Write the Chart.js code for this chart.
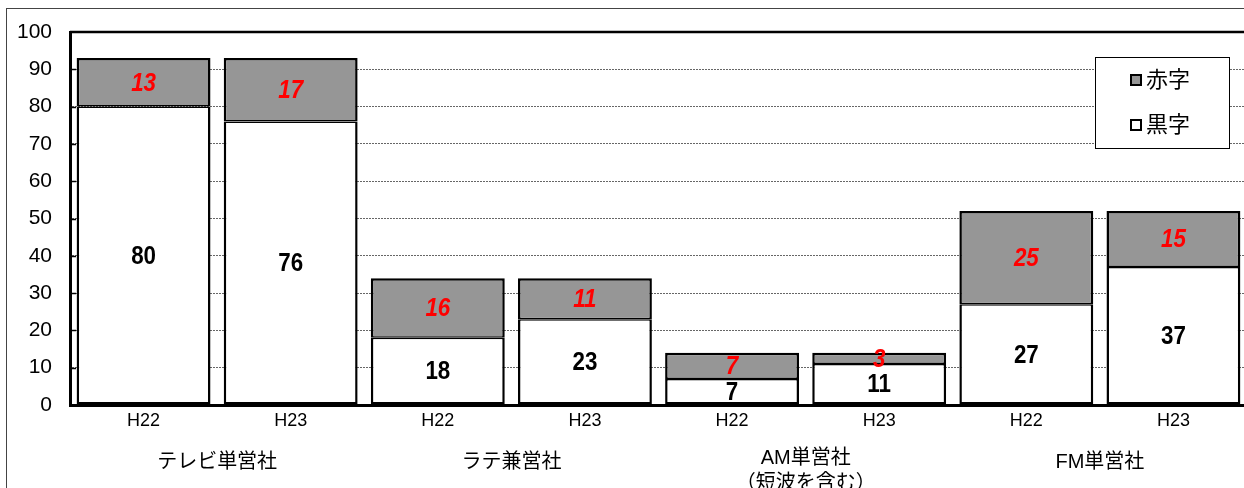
<!DOCTYPE html>
<html>
<head>
<meta charset="utf-8">
<script src="https://cdn.jsdelivr.net/npm/chart.js@4.4.0/dist/chart.umd.min.js"></script>
<style>
  html, body { margin: 0; padding: 0; background: #fff; overflow: hidden; }
</style>
</head>
<body>
<canvas id="myChart" width="1262" height="488"></canvas>
<script>
// 年度別・業態別の黒字／赤字社数
const years = ['H22', 'H23', 'H22', 'H23', 'H22', 'H23', 'H22', 'H23'];
const groups = [['テレビ単営社'], ['ラテ兼営社'], ['AM単営社', '（短波を含む）'], ['FM単営社']];
const kuroji = [80, 76, 18, 23, 7, 11, 27, 37];
const akaji = [13, 17, 16, 11, 7, 3, 25, 15];
const yMax = 100;
const yStep = 10;

const JP = "'Liberation Sans', 'Noto Sans CJK JP', sans-serif";

const decor = {
  id: 'decor',
  beforeDraw(chart) {
    const c = chart.ctx;
    c.save();
    c.fillStyle = '#fff';
    c.fillRect(0, 0, chart.width, chart.height);
    // outer frame
    c.strokeStyle = '#444';
    c.lineWidth = 1;
    c.strokeRect(6.5, 8.5, chart.width + 20, chart.height + 20);
    c.restore();
  },
  afterDatasetsDraw(chart) {
    const c = chart.ctx;
    const a = chart.chartArea;
    const y = chart.scales.y;
    const x = chart.scales.x;
    c.save();

    // plot area top line
    c.strokeStyle = '#000';
    c.lineWidth = 2.5;
    c.beginPath();
    c.moveTo(a.left, a.top);
    c.lineTo(a.right + 20, a.top);
    c.stroke();

    // short inward ticks on the value axis
    c.lineWidth = 1.5;
    for (let v = yStep; v < yMax; v += yStep) {
      const py = Math.round(y.getPixelForValue(v)) + 0.5;
      c.beginPath();
      c.moveTo(a.left, py);
      c.lineTo(a.left + 6, py);
      c.stroke();
    }

    // value labels inside each segment (condensed bold digits)
    c.textAlign = 'center';
    c.textBaseline = 'middle';
    chart.data.datasets.forEach((ds, di) => {
      const meta = chart.getDatasetMeta(di);
      meta.data.forEach((bar, i) => {
        const p = bar.getProps(['x', 'y', 'base'], true);
        const cy = (p.y + p.base) / 2;
        c.save();
        c.translate(p.x, cy + 1);
        c.scale(0.86, 1);
        if (di === 0) {
          c.fillStyle = '#000';
          c.font = 'bold 26px ' + JP;
        } else {
          c.fillStyle = '#ff0000';
          c.font = 'italic bold 26px ' + JP;
        }
        c.fillText(String(ds.data[i]), 0, 0);
        c.restore();
      });
    });

    // group captions under each pair of bars
    c.fillStyle = '#000';
    c.font = '20px ' + JP;
    groups.forEach((lines, g) => {
      const cx = (x.getPixelForValue(g * 2) + x.getPixelForValue(g * 2 + 1)) / 2;
      const top = lines.length > 1 ? 458 : 462;
      lines.forEach((t, k) => c.fillText(t, cx, top + k * 25));
    });

    // legend box
    const lx = 1095, ly = 57, lw = 134, lh = 91;
    c.fillStyle = '#fff';
    c.fillRect(lx, ly, lw, lh);
    c.strokeStyle = '#000';
    c.lineWidth = 1;
    c.strokeRect(lx + 0.5, ly + 0.5, lw, lh);
    const items = [
      { text: '赤字', fill: '#969696', cy: 80 },
      { text: '黒字', fill: '#ffffff', cy: 125 }
    ];
    c.textAlign = 'left';
    c.font = '22px ' + JP;
    items.forEach(it => {
      c.fillStyle = it.fill;
      c.fillRect(1131, it.cy - 5, 10, 10);
      c.lineWidth = 2;
      c.strokeStyle = '#000';
      c.strokeRect(1131, it.cy - 5, 10, 10);
      c.fillStyle = '#000';
      c.fillText(it.text, 1146, it.cy + 1);
    });
    c.restore();
  }
};

const config = {
  type: 'bar',
  data: {
    labels: years,
    datasets: [
      {
        label: '黒字',
        data: kuroji,
        backgroundColor: '#ffffff',
        borderColor: '#000',
        borderWidth: { top: 1.5, left: 2.5, right: 2.5, bottom: 2.5 },
        borderSkipped: false
      },
      {
        label: '赤字',
        data: akaji,
        backgroundColor: '#969696',
        borderColor: '#000',
        borderWidth: { top: 2.5, left: 2.5, right: 2.5, bottom: 1.5 },
        borderSkipped: false
      }
    ]
  },
  options: {
    responsive: false,
    animation: false,
    layout: { padding: { top: 32, right: 15, left: 0, bottom: 0 } },
    categoryPercentage: 1,
    barPercentage: 0.91,
    plugins: {
      legend: { display: false },
      tooltip: { enabled: false }
    },
    scales: {
      x: {
        stacked: true,
        grid: { display: false, drawTicks: false },
        border: { display: true, color: '#000', width: 3 },
        ticks: { color: '#000', font: { family: JP, size: 18 }, padding: 5 },
        afterFit(scale) { scale.height = 83; }
      },
      y: {
        stacked: true,
        min: 0,
        max: yMax,
        grid: { color: '#666', lineWidth: 1, drawTicks: false },
        border: { display: true, color: '#000', width: 3, dash: [2, 1] },
        ticks: {
          stepSize: yStep,
          color: '#000',
          font: { family: JP, size: 21 },
          padding: 18
        },
        afterFit(scale) { scale.width = 70; }
      }
    }
  },
  plugins: [decor]
};

const ctx = document.getElementById('myChart');
const myChart = new Chart(ctx, config);
</script>
</body>
</html>
